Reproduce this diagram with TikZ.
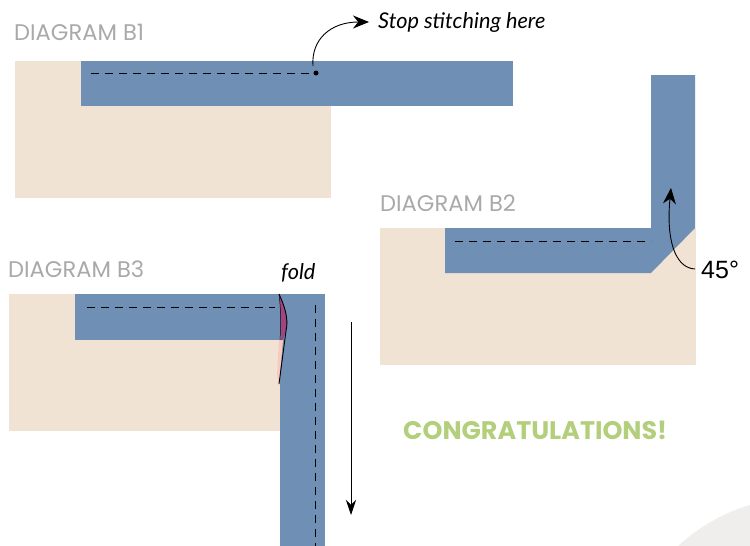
\documentclass[tikz,border=0pt]{standalone}
\usepackage{fontspec}
\setmainfont{Poppins}
\newfontfamily\handfont{Lato}
\newfontfamily\plainfont{Liberation Sans}
\usetikzlibrary{arrows.meta}
\definecolor{binding}{HTML}{6F90B4}
\definecolor{fabric}{HTML}{F0E3D4}
\definecolor{heading}{HTML}{A9A9A9}
\definecolor{cheer}{HTML}{B3CF7B}
\definecolor{foldback}{HTML}{A0457F}
\definecolor{foldpink}{HTML}{F9C9C0}
\definecolor{corner}{HTML}{F0EEEC}
\tikzset{
    % Diagram title style
    diagram title/.style={
        anchor=west,
        font=\fontsize{22.6}{23}\selectfont,
        text=heading,
        inner sep=0pt
    },
    % Handwritten note style
    note text/.style={
        anchor=west,
        font=\handfont\itshape\fontsize{21.7}{22}\selectfont,
        inner sep=0pt
    },
    % Stitch line style
    stitch/.style={
        line width=0.9pt,
        dash pattern=on 8pt off 6pt,
        color=black
    },
    % Arrow styles
    pointer/.style={
        -{Stealth[length=16pt, width=13pt]},
        line width=0.9pt,
        color=black
    }
}
\begin{document}
\begin{tikzpicture}[x=1pt, y=-1pt]
        \useasboundingbox (0,0) rectangle (750,546);

        % Corner shape
        \fill[corner] (678,546) .. controls (700,526) and (725,512) .. (750,505) -- (750,546) -- cycle;

        % Diagram B1
        \node[diagram title] (titleone) at (14,32) {DIAGRAM B1};
        \fill[fabric] (15,61) rectangle (331,198);
        \fill[binding] (81,61) rectangle (513,106);
        \draw[stitch] (91,73) -- (316,73);
        \fill (316,73) circle (2.5pt);
        \coordinate (stopstart) at (313,66);
        \node[note text] (stopnote) at (378,22) {Stop stitching here};
        \draw[pointer] (stopstart) .. controls (311,40) and (330,22) .. (369,22);

        % Diagram B2
        \node[diagram title] (titletwo) at (380,203) {DIAGRAM B2};
        \fill[fabric] (380,228) rectangle (696,365);
        \fill[binding] (445,228) -- (651,228) -- (651,75) -- (695,75) -- (695,228)
            -- (651,273) -- (445,273) -- cycle;
        \draw[stitch] (455,241) -- (651,241);
        \node[anchor=west, inner sep=0pt, font=\plainfont\fontsize{25}{25}\selectfont] (anglenote) at (701,270) {45°};
        \draw[pointer] (695,269) .. controls (675,268) and (666,240) .. (671,188);

        % Diagram B3
        \node[diagram title] (titlethree) at (8,269) {DIAGRAM B3};
        \fill[fabric] (9,294) rectangle (280,431);
        \fill[binding] (75,294) rectangle (280,340);
        \fill[binding] (280,294) rectangle (325,546);
        \draw[stitch] (87,307) -- (275,307);
        \draw[stitch] (315,305) -- (315,546);

        % Fold
        \fill[foldpink] (279,340) -- (283,340) -- (279,385) -- (277,375) -- cycle;
        \fill[foldback] (279,294) .. controls (284,305) and (288,315) .. (287,327)
            -- (283,340) -- (281,340) .. controls (281,325) and (281,310) .. (279,294) -- cycle;
        \draw[line width=0.9pt] (279,294) .. controls (284,305) and (289,318) .. (286,331)
            -- (279,384);
        \draw[line width=0.5pt] (279,294) .. controls (281,310) and (281,325) .. (280,340);
        \node[note text] (foldnote) at (281,273) {fold};

        % Down arrow
        \coordinate (downstart) at (351,322);
        \coordinate (downend) at (351,515);
        \draw[pointer, -{Stealth[length=15pt, width=10pt]}, line width=0.8pt] (downstart) -- (downend);

        % Closing line
        \node[anchor=west, inner sep=0pt, text=cheer, font=\bfseries\fontsize{25.4}{26}\selectfont] (cheers) at (403,430) {CONGRATULATIONS!};

    \end{tikzpicture}
\end{document}
